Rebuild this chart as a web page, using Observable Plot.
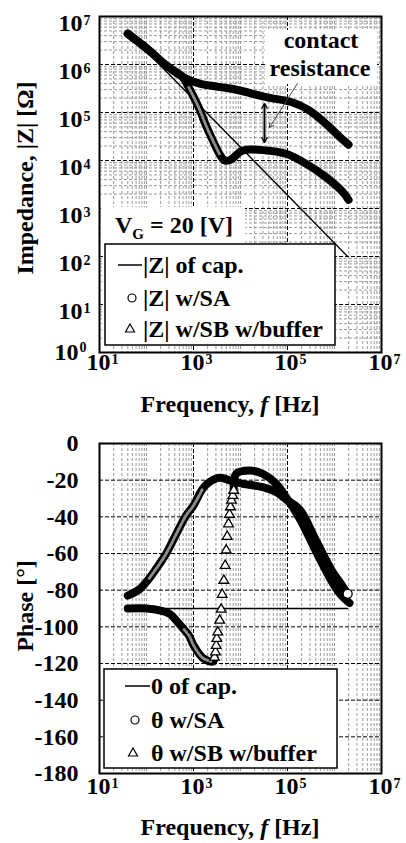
<!DOCTYPE html>
<html><head><meta charset="utf-8">
<script src="https://cdn.jsdelivr.net/npm/d3@7"></script>
<script src="https://cdn.jsdelivr.net/npm/@observablehq/plot@0.6"></script>
<style>body{margin:0;background:#fff}svg{display:block}</style>
</head><body><div id="chart"></div>
<script>
// ---- tick values ----
const ticksF = [10, 1e3, 1e5, 1e7];
const ticksZ = [10, 100, 1e3, 1e4, 1e5, 1e6, 1e7];
const ticksZlow = [1];
const ticksPhase = [0, -20, -40, -60, -80, -100, -120, -140, -160, -180];
const majorF = [1e3, 1e5];
const majorZ = [10, 100, 1e3, 1e4, 1e5, 1e6];
const majorPhase = [-20, -40, -60, -80, -100, -120, -140, -160];

// ---- |Z| data (Hz, Ohm) ----
const capZ_f = [40, 1.9e6];
const capZ_v = [4.7e6, 100];
const zSA_f = [40, 115, 263, 589, 1350, 6920, 35500, 129000, 295000, 661000, 1290000, 1990000];
const zSA_v = [4.37e6, 1.95e6, 9.55e5, 5.5e5, 3.98e5, 3.09e5, 2.09e5, 1.62e5, 1.1e5, 5.75e4, 3.09e4, 2.14e4];
const zSB_f = [40, 115, 263, 589, 794, 1000, 1350, 1860, 2570, 3550, 4570, 5620, 6920, 11200, 35500, 93300, 251000, 661000, 1510000, 1990000];
const zSB_v = [4.37e6, 1.95e6, 9.55e5, 5.5e5, 3.31e5, 2.14e5, 1.15e5, 5.25e4, 2.63e4, 1.38e4, 1.0e4, 1.0e4, 1.12e4, 1.62e4, 1.62e4, 1.38e4, 8.5e3, 4.47e3, 2.19e3, 1.51e3];

// ---- phase data (Hz, deg) ----
const capP_f = [40, 1.9e6];
const capP_v = [-90, -90];
const pSA_f = [40, 71, 115, 190, 263, 501, 692, 977, 1585, 2188, 3548, 6918, 11220, 29510, 57540, 100000, 182000, 407000, 912000, 1413000, 1905000];
const pSA_v = [-83, -79.5, -73.5, -65.6, -60, -46, -39.3, -34.2, -24.5, -21, -18.7, -20.7, -22, -23.8, -26.5, -31, -36, -53, -70, -77, -82];
const pSB_f = [40, 100, 190, 316, 427, 631, 813, 1000, 1585, 2570, 2800];
const pSB_v = [-90, -90, -91, -93, -96.5, -101.5, -105, -110, -117, -119, -117];
const pSBjump_f = [2800, 2940, 3040, 3130, 3290, 3610, 3880, 4080, 4420, 4720, 4970, 5210, 5560, 5830, 6120, 6440, 6860, 7190];
const pSBjump_v = [-116.6, -113.8, -110.2, -106.4, -102.9, -96.5, -90.5, -82.4, -74.7, -66.6, -58.2, -50.8, -43.9, -38.7, -34.6, -31, -28.4, -25.6];
const pSBhigh_f = [7190, 8130, 15490, 29510, 57540, 93330, 182000, 407000, 912000, 1413000, 2089000];
const pSBhigh_v = [-25.6, -16.5, -14.7, -16.5, -22, -29.3, -41, -59, -76, -83, -87];

// ---- annotation arrows (data coords) ----
const arrowSlant = {f1: 1.63e5, z1: 4.02e5, f2: 4.14e4, z2: 4.87e4};
const arrowDouble = {f: 3.24e4, zTop: 1.54e5, zMid: 5.85e4, zBot: 2.37e4};

const FONT = "'Liberation Serif','Times New Roman',serif";
const tbl = (fs, vs) => fs.map((f, i) => ({f, v: vs[i]}));

const minorF = [];
for (let k = 1; k < 7; k++) for (let m = 1; m < 10; m++) { if (m === 1 && (k % 2 === 1)) continue; minorF.push(m * 10 ** k); }
const minorZ = [];
for (let k = 0; k < 7; k++) for (let m = 2; m < 10; m++) minorZ.push(m * 10 ** k);

const NS = "http://www.w3.org/2000/svg";
function box(x, y, w, h) {
  return () => {
    const r = document.createElementNS(NS, "rect");
    r.setAttribute("x", x); r.setAttribute("y", y); r.setAttribute("width", w); r.setAttribute("height", h);
    r.setAttribute("fill", "white");
    return r;
  };
}

const bold = {fontWeight: "bold", fill: "black"};
const band = {x: "f", y: "v", stroke: "black", strokeWidth: 8, curve: "catmull-rom"};
const hatch = {x: "f", y: "v", stroke: "white", strokeWidth: 3, strokeDasharray: "1,2", strokeOpacity: 0.55, curve: "catmull-rom"};

// ================= TOP CHART =================
const chartZ = Plot.plot({
  width: 406, height: 420, marginLeft: 99, marginRight: 25, marginTop: 16, marginBottom: 68,
  x: {type: "log", domain: [10, 1e7], axis: null},
  y: {type: "log", domain: [1, 1e7], axis: null},
  style: {fontFamily: FONT, background: "white", overflow: "visible"},
  marks: [
    Plot.ruleY(minorZ, {stroke: "#9a9a9a", strokeDasharray: "3,2", strokeWidth: 1}),
    Plot.ruleX(minorF, {stroke: "#9a9a9a", strokeDasharray: "3,2", strokeWidth: 1}),
    Plot.ruleY(majorZ, {stroke: "#000", strokeDasharray: "4,2", strokeWidth: 1}),
    Plot.ruleX(majorF, {stroke: "#000", strokeDasharray: "4,2", strokeWidth: 1}),
    box(101, 207, 144, 37),
    box(265, 30, 112, 54),
    Plot.line(tbl(capZ_f, capZ_v), {x: "f", y: "v", stroke: "black", strokeWidth: 1.3}),
    Plot.line(tbl(zSA_f, zSA_v), {...band, strokeLinecap: "round"}),
    Plot.line(tbl(zSB_f, zSB_v), band),
    Plot.line(tbl(zSB_f, zSB_v), {...hatch, filter: d => d.f >= 794 && d.f <= 3550}),
    Plot.link([arrowDouble], {x1: "f", x2: "f", y1: "zTop", y2: "zBot", stroke: "#888", strokeWidth: 3.5}),
    Plot.arrow([arrowDouble], {x1: "f", x2: "f", y1: "zMid", y2: "zTop", stroke: "black", strokeWidth: 1.2, headLength: 7}),
    Plot.arrow([arrowDouble], {x1: "f", x2: "f", y1: "zMid", y2: "zBot", stroke: "black", strokeWidth: 1.2, headLength: 7}),
    Plot.arrow([arrowSlant], {x1: "f1", y1: "z1", x2: "f2", y2: "z2", stroke: "#444", strokeWidth: 1, headLength: 7}),
    Plot.text(ticksZ, {y: d => d, frameAnchor: "left", text: () => "10", textAnchor: "end", dx: -17, dy: 7, fontSize: 24, ...bold}),
    Plot.text(ticksZ, {y: d => d, frameAnchor: "left", text: d => String(Math.round(Math.log10(d))), textAnchor: "start", dx: -16, dy: 4, fontSize: 14, ...bold}),
    Plot.text(ticksZlow, {y: d => d, frameAnchor: "left", text: () => "10", textAnchor: "end", dx: -21, dy: 0, fontSize: 24, ...bold}),
    Plot.text(ticksZlow, {y: d => d, frameAnchor: "left", text: d => String(Math.round(Math.log10(d))), textAnchor: "start", dx: -20, dy: -5, fontSize: 14, ...bold}),
    Plot.text(ticksF, {x: d => d, frameAnchor: "bottom", text: () => "10", textAnchor: "end", dx: 11, dy: 17, fontSize: 24, ...bold}),
    Plot.text(ticksF, {x: d => d, frameAnchor: "bottom", text: d => String(Math.round(Math.log10(d))), textAnchor: "start", dx: 12, dy: 11, fontSize: 14, ...bold}),
    Plot.frame({stroke: "black", strokeWidth: 2})
  ]
});

// ================= BOTTOM CHART =================
const chartP = Plot.plot({
  width: 406, height: 423, marginLeft: 99, marginRight: 25, marginTop: 23, marginBottom: 70,
  x: {type: "log", domain: [10, 1e7], axis: null},
  y: {domain: [-180, 0], axis: null},
  style: {fontFamily: FONT, background: "white", overflow: "visible"},
  marks: [
    Plot.ruleX(minorF, {stroke: "#9a9a9a", strokeDasharray: "3,2", strokeWidth: 1}),
    Plot.ruleY(majorPhase, {stroke: "#000", strokeDasharray: "4,2", strokeWidth: 1}),
    Plot.ruleX(majorF, {stroke: "#000", strokeDasharray: "4,2", strokeWidth: 1}),
    Plot.line(tbl(capP_f, capP_v), {x: "f", y: "v", stroke: "black", strokeWidth: 1.3}),
    Plot.line(tbl(pSA_f, pSA_v), {...band, strokeLinecap: "round"}),
    Plot.line(tbl(pSA_f, pSA_v), {...hatch, filter: d => d.f >= 115 && d.f <= 1585}),
    Plot.line(tbl(pSB_f, pSB_v), band),
    Plot.line(tbl(pSB_f, pSB_v), {...hatch, filter: d => d.f >= 631 && d.f <= 2570}),
    Plot.line(tbl(pSBhigh_f, pSBhigh_v), band),
    Plot.dot(tbl(pSBjump_f, pSBjump_v), {x: "f", y: "v", symbol: "triangle", r: 3.6, stroke: "black", fill: "white", strokeWidth: 1.3}),
    Plot.dot(tbl(pSA_f, pSA_v).slice(-1), {x: "f", y: "v", r: 4.5, stroke: "black", fill: "white", strokeWidth: 1.3}),
    Plot.text(ticksPhase, {y: d => d, frameAnchor: "left", text: d => String(d), textAnchor: "end", dx: -21, fontSize: 24, ...bold}),
    Plot.text(ticksF, {x: d => d, frameAnchor: "bottom", text: () => "10", textAnchor: "end", dx: 11, dy: 20, fontSize: 24, ...bold}),
    Plot.text(ticksF, {x: d => d, frameAnchor: "bottom", text: d => String(Math.round(Math.log10(d))), textAnchor: "start", dx: 12, dy: 14, fontSize: 14, ...bold}),
    Plot.frame({stroke: "black", strokeWidth: 2})
  ]
});

// ---- decorations: titles, legends, annotations ----
function addText(svg, x, y, parts, opts = {}) {
  const t = svg.append("text").attr("x", x).attr("y", y)
    .attr("font-family", FONT).attr("font-weight", "bold").attr("font-size", opts.size || 24)
    .attr("text-anchor", opts.anchor || "start").attr("fill", "black");
  if (opts.rotate) t.attr("transform", `rotate(-90 ${x} ${y})`).attr("dominant-baseline", "central");
  for (const p of parts) {
    const s = t.append("tspan").text(p.t);
    if (p.italic) s.attr("font-style", "italic");
    if (p.size) s.attr("font-size", p.size);
    if (p.dy) s.attr("dy", p.dy);
  }
  return t;
}
function legend(svg, bx, by, bw, bh, rows, lineX, symX, textX) {
  svg.append("rect").attr("x", bx).attr("y", by).attr("width", bw).attr("height", bh)
    .attr("fill", "white").attr("stroke", "black").attr("stroke-width", 1.5);
  rows.forEach(r => {
    if (r.kind === "line") svg.append("line").attr("x1", lineX[0]).attr("x2", lineX[1]).attr("y1", r.y).attr("y2", r.y).attr("stroke", "black").attr("stroke-width", 1.5);
    if (r.kind === "circle") svg.append("circle").attr("cx", symX).attr("cy", r.y).attr("r", 4).attr("fill", "white").attr("stroke", "black").attr("stroke-width", 1.2);
    if (r.kind === "tri") svg.append("path").attr("d", `M${symX - 2},${r.y - 5}L${symX + 2.5},${r.y + 3}L${symX - 6.5},${r.y + 3}Z`).attr("fill", "white").attr("stroke", "black").attr("stroke-width", 1.2);
    addText(svg, textX, r.y + 8, [{t: r.label}]);
  });
}

const s1 = d3.select(chartZ);
addText(s1, 321, 48, [{t: "contact"}], {anchor: "middle"});
addText(s1, 320, 76, [{t: "resistance"}], {anchor: "middle"});
addText(s1, 115, 233, [{t: "V"}, {t: "G", size: 15, dy: 6}, {t: " = 20 [V]", dy: -6}]);
legend(s1, 105, 244, 230, 101, [
  {kind: "line", y: 265, label: "|Z| of cap."},
  {kind: "circle", y: 298, label: "|Z| w/SA"},
  {kind: "tri", y: 329, label: "|Z| w/SB w/buffer"}
], [118, 142], 132, 143);
addText(s1, 25, 178, [{t: "Impedance, |Z| [Ω]"}], {anchor: "middle", rotate: true});
addText(s1, 230, 412, [{t: "Frequency, "}, {t: "f", italic: true}, {t: " [Hz]"}], {anchor: "middle"});

const s2 = d3.select(chartP);
legend(s2, 104, 249, 233, 99, [
  {kind: "line", y: 266, label: "0 of cap."},
  {kind: "circle", y: 300, label: "θ w/SA"},
  {kind: "tri", y: 333, label: "θ w/SB w/buffer"}
], [125, 150], 135, 151);
addText(s2, 25, 186, [{t: "Phase [°]"}], {anchor: "middle", rotate: true});
addText(s2, 230, 415, [{t: "Frequency, "}, {t: "f", italic: true}, {t: " [Hz]"}], {anchor: "middle"});

document.getElementById("chart").append(chartZ, chartP);
</script>
</body></html>
